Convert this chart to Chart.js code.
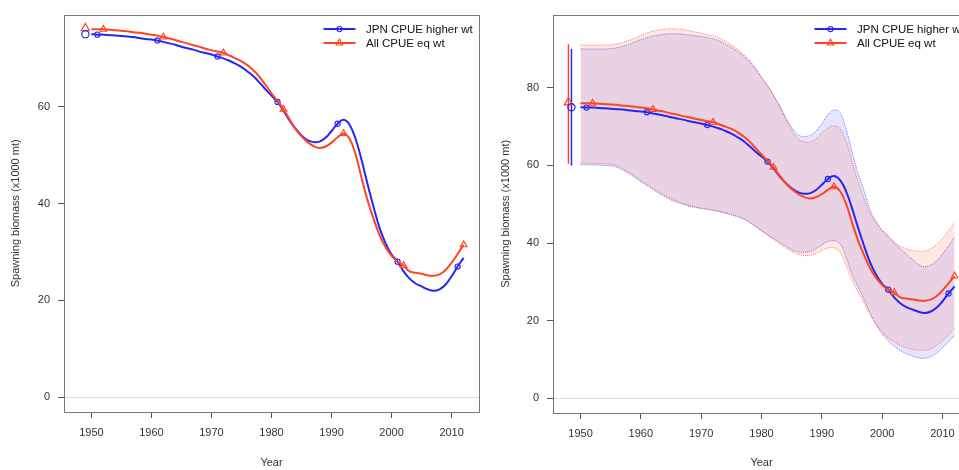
<!DOCTYPE html>
<html>
<head>
<meta charset="utf-8">
<title>Spawning biomass</title>
<script src="https://cdn.jsdelivr.net/npm/chart.js@4.4.1/dist/chart.umd.min.js"></script>
<style>
  html, body { margin: 0; padding: 0; background: #fff; overflow: hidden; }
  #wrap { position: relative; width: 959px; height: 470px; overflow: hidden; }
  canvas { position: absolute; top: 0; }
  #left-panel { left: 0; }
  #right-panel { left: 490px; }
</style>
</head>
<body>
<div id="wrap">
  <canvas id="left-panel" width="490" height="470"></canvas>
  <canvas id="right-panel" width="490" height="470"></canvas>
</div>
<script>
// Model years
const years = [
    1950, 1951, 1952, 1953, 1954, 1955, 1956, 1957, 1958, 1959,
    1960, 1961, 1962, 1963, 1964, 1965, 1966, 1967, 1968, 1969,
    1970, 1971, 1972, 1973, 1974, 1975, 1976, 1977, 1978, 1979,
    1980, 1981, 1982, 1983, 1984, 1985, 1986, 1987, 1988, 1989,
    1990, 1991, 1992, 1993, 1994, 1995, 1996, 1997, 1998, 1999,
    2000, 2001, 2002, 2003, 2004, 2005, 2006, 2007, 2008, 2009,
    2010, 2011, 2012
];

const seriesNames = ['JPN CPUE higher wt', 'All CPUE eq wt'];

// Spawning biomass (x1000 mt), JPN CPUE higher weight
const jpnSSB = [
    75.0, 74.9, 74.9, 74.8, 74.7, 74.6, 74.5, 74.4, 74.2, 74.0,
    73.9, 73.7, 73.4, 73.1, 72.8, 72.4, 72.1, 71.8, 71.4, 71.1,
    70.8, 70.4, 70.0, 69.5, 68.9, 68.2, 67.3, 66.3, 65.0, 63.6,
    62.3, 61.0, 59.2, 57.2, 55.5, 54.1, 53.1, 52.7, 52.8, 53.6,
    55.0, 56.5, 57.3, 56.3, 53.4, 49.0, 44.0, 39.3, 35.0, 31.8,
    29.5, 28.0, 26.0, 24.5, 23.5, 22.9, 22.3, 22.0, 22.3, 23.3,
    25.0, 27.0, 28.8
];
const jpnHi = [
    90.0, 90.0, 90.0, 90.0, 90.0, 90.1, 90.3, 90.7, 91.2, 91.8,
    92.4, 92.9, 93.3, 93.6, 93.8, 93.9, 93.9, 93.8, 93.6, 93.4,
    93.2, 92.9, 92.6, 92.0, 91.3, 90.4, 89.4, 88.2, 86.7, 84.8,
    82.6, 80.5, 78.0, 75.3, 72.4, 69.8, 68.0, 67.4, 67.7, 68.8,
    70.8, 73.0, 74.3, 73.6, 69.5, 63.5, 58.0, 53.5, 48.5, 45.5,
    43.3, 41.6, 40.0, 38.5, 37.2, 35.8, 34.5, 33.9, 34.3, 35.4,
    37.2, 39.3, 41.5
];
const jpnLo = [
    60.2, 60.2, 60.1, 60.1, 60.0, 59.9, 59.5, 58.8, 57.9, 56.9,
    55.8, 54.8, 53.8, 52.8, 51.9, 51.1, 50.5, 50.0, 49.5, 49.2,
    48.9, 48.7, 48.4, 48.1, 47.7, 47.3, 46.8, 46.2, 45.4, 44.3,
    43.2, 42.2, 41.2, 40.2, 39.2, 38.3, 37.8, 37.6, 37.8, 38.5,
    39.5, 40.4, 40.6, 39.8, 36.5, 32.0, 28.8, 25.6, 22.0, 18.9,
    16.6, 14.8, 13.4, 12.3, 11.5, 10.9, 10.4, 10.3, 10.7, 11.6,
    13.0, 14.6, 16.2
];

// Spawning biomass (x1000 mt), all CPUE equal weight
const allSSB = [
    76.0, 76.0, 76.0, 75.9, 75.8, 75.7, 75.6, 75.4, 75.3, 75.1,
    74.9, 74.7, 74.4, 74.1, 73.8, 73.4, 73.1, 72.7, 72.4, 72.0,
    71.7, 71.4, 71.1, 70.6, 70.0, 69.4, 68.6, 67.5, 66.2, 64.5,
    62.8, 61.2, 59.5, 57.4, 55.4, 53.9, 52.7, 51.9, 51.5, 51.8,
    52.6, 53.7, 54.5, 53.4, 50.2, 45.3, 40.7, 36.9, 33.5, 31.0,
    29.2, 28.0, 27.2, 26.0, 25.7, 25.5, 25.2, 25.1, 25.4, 26.3,
    27.8, 29.6, 31.5
];
const allHi = [
    91.0, 91.0, 91.0, 91.0, 91.0, 91.1, 91.3, 91.7, 92.2, 92.8,
    93.5, 94.1, 94.6, 94.9, 95.1, 95.2, 95.1, 95.0, 94.7, 94.4,
    94.1, 93.7, 93.4, 92.8, 92.0, 91.1, 90.0, 88.7, 87.1, 85.1,
    82.8, 80.6, 78.0, 75.2, 72.1, 69.2, 67.0, 66.1, 66.0, 66.8,
    68.3, 69.6, 70.2, 69.5, 66.2, 61.0, 55.8, 51.4, 47.6, 45.2,
    43.3, 41.9, 40.3, 39.2, 38.5, 38.1, 37.9, 37.9, 38.5, 39.6,
    41.2, 43.2, 45.3
];
const allLo = [
    60.6, 60.6, 60.5, 60.5, 60.4, 60.3, 59.9, 59.2, 58.3, 57.3,
    56.2, 55.2, 54.2, 53.2, 52.3, 51.5, 50.8, 50.2, 49.7, 49.3,
    49.0, 48.8, 48.5, 48.2, 47.8, 47.4, 46.9, 46.3, 45.4, 44.3,
    43.1, 42.0, 40.9, 39.8, 38.7, 37.8, 37.1, 36.8, 36.8, 37.3,
    38.1, 38.7, 38.8, 37.7, 34.4, 30.5, 27.5, 24.5, 21.5, 19.2,
    17.1, 15.6, 14.5, 13.6, 13.0, 12.6, 12.4, 12.4, 12.7, 13.5,
    14.8, 16.3, 18.0
];

// Years that carry a plot symbol on each line
const jpnMarkYears = [1951, 1961, 1971, 1981, 1991, 2001, 2011];
const allMarkYears = [1952, 1962, 1972, 1982, 1992, 2002, 2012];

// Unfished (initial) biomass with its interval: [JPN, All]
const initSSB = [75.0, 76.2];
const initHi = [90.0, 91.2];
const initLo = [60.0, 60.4];
const initYearsLeft = [1949, 1949];
const initYearsRight = [1948.5, 1948];

// Axis ticks
const xTicks = [1950, 1960, 1970, 1980, 1990, 2000, 2010];
const yTicksLeft = [0, 20, 40, 60];
const yTicksRight = [0, 20, 40, 60, 80];

const BLUE = '#2626f4';
const RED = '#ff4422';
const HOLLOW = 'rgba(0,0,0,0)';

Chart.defaults.font.family = '"Liberation Sans", Arial, sans-serif';
Chart.defaults.font.size = 11;
Chart.defaults.color = '#333';

function points(values) {
    return years.map((yr, i) => ({ x: yr, y: values[i] }));
}

// Box around the plotting region
const plotBox = {
    id: 'plotBox',
    afterDraw(chart) {
        const { ctx, chartArea: a } = chart;
        ctx.save();
        ctx.strokeStyle = '#777';
        ctx.lineWidth = 1;
        ctx.strokeRect(Math.round(a.left) + 0.5, Math.round(a.top) + 0.5,
            Math.round(a.right - a.left), Math.round(a.bottom - a.top));
        ctx.restore();
    }
};

// Legend drawn inside the top right corner of the plot
const insideLegend = {
    id: 'insideLegend',
    afterDraw(chart) {
        const { ctx, chartArea } = chart;
        const x0 = chartArea.right - 155.5;
        const items = [
            { label: seriesNames[0], color: BLUE, style: 'circle', radius: 2.6 },
            { label: seriesNames[1], color: RED, style: 'triangle', radius: 3.9 }
        ];
        items.forEach((item, i) => {
            const y = chartArea.top + 14.5 + i * 14;
            ctx.save();
            ctx.strokeStyle = item.color;
            ctx.lineWidth = 2;
            ctx.beginPath();
            ctx.moveTo(x0, y);
            ctx.lineTo(x0 + 32, y);
            ctx.stroke();
            ctx.fillStyle = HOLLOW;
            ctx.lineWidth = 1.1;
            Chart.helpers.drawPoint(ctx, {
                pointStyle: item.style, radius: item.radius, borderWidth: 1.1, rotation: 0
            }, x0 + 16, y);
            ctx.fillStyle = '#111';
            ctx.font = '11.5px "Liberation Sans", Arial, sans-serif';
            ctx.textBaseline = 'middle';
            ctx.fillText(item.label, x0 + 42.5, y + 0.5);
            ctx.restore();
        });
    }
};

function markRadius(markYears, r) {
    return ctx => markYears.includes(years[ctx.dataIndex]) ? r : 0;
}

function buildPanel(canvasId, panel) {
    const datasets = [
        {
            label: seriesNames[0],
            data: points(jpnSSB),
            borderColor: BLUE,
            borderWidth: 2,
            tension: 0.4,
            pointStyle: 'circle',
            pointRadius: markRadius(jpnMarkYears, 2.6),
            pointBorderWidth: 1.1,
            pointBorderColor: BLUE,
            pointBackgroundColor: HOLLOW,
            order: 1
        },
        {
            label: seriesNames[1],
            data: points(allSSB),
            borderColor: RED,
            borderWidth: 2,
            tension: 0.4,
            pointStyle: 'triangle',
            pointRadius: markRadius(allMarkYears, 3.9),
            pointBorderWidth: 1.1,
            pointBorderColor: RED,
            pointBackgroundColor: HOLLOW,
            order: 0
        },
        {
            label: 'JPN initial',
            data: [{ x: panel.initYears[0], y: initSSB[0] }],
            showLine: false,
            pointStyle: 'circle',
            pointRadius: 3.6,
            pointBorderWidth: 1.2,
            pointBorderColor: BLUE,
            pointBackgroundColor: HOLLOW,
            order: 0
        },
        {
            label: 'All initial',
            data: [{ x: panel.initYears[1], y: initSSB[1] }],
            showLine: false,
            pointStyle: 'triangle',
            pointRadius: 4.8,
            pointBorderWidth: 1.2,
            pointBorderColor: RED,
            pointBackgroundColor: HOLLOW,
            order: 0
        }
    ];

    if (panel.intervals) {
        datasets.push(
            // interval bars on the unfished biomass
            {
                label: 'JPN initial CI',
                data: [{ x: panel.initYears[0], y: initLo[0] }, { x: panel.initYears[0], y: initHi[0] }],
                borderColor: BLUE,
                borderWidth: 1.5,
                pointRadius: 0,
                order: 2
            },
            {
                label: 'All initial CI',
                data: [{ x: panel.initYears[1], y: initLo[1] }, { x: panel.initYears[1], y: initHi[1] }],
                borderColor: RED,
                borderWidth: 1.5,
                pointRadius: 0,
                order: 2
            },
            // shaded confidence bands with dotted edges
            {
                label: 'JPN upper',
                data: points(jpnHi),
                borderColor: 'rgba(70,70,255,0.75)',
                borderWidth: 1,
                borderDash: [1, 1],
                tension: 0.4,
                pointRadius: 0,
                fill: '+1',
                backgroundColor: 'rgba(70,70,255,0.14)',
                order: 4
            },
            {
                label: 'JPN lower',
                data: points(jpnLo),
                borderColor: 'rgba(70,70,255,0.75)',
                borderWidth: 1,
                borderDash: [1, 1],
                tension: 0.4,
                pointRadius: 0,
                order: 4
            },
            {
                label: 'All upper',
                data: points(allHi),
                borderColor: 'rgba(255,90,60,0.75)',
                borderWidth: 1,
                borderDash: [1, 1],
                tension: 0.4,
                pointRadius: 0,
                fill: '+1',
                backgroundColor: 'rgba(255,90,60,0.14)',
                order: 3
            },
            {
                label: 'All lower',
                data: points(allLo),
                borderColor: 'rgba(255,90,60,0.75)',
                borderWidth: 1,
                borderDash: [1, 1],
                tension: 0.4,
                pointRadius: 0,
                order: 3
            }
        );
    }

    return new Chart(document.getElementById(canvasId), {
        type: 'line',
        data: { datasets: datasets },
        options: {
            responsive: false,
            animation: false,
            devicePixelRatio: 1,
            layout: { padding: { left: 0, top: 11, right: panel.padRight, bottom: 0 } },
            plugins: {
                legend: { display: false },
                tooltip: { enabled: false }
            },
            scales: {
                x: {
                    type: 'linear',
                    min: 1945.44,
                    max: 2014.56,
                    afterBuildTicks: scale => { scale.ticks = xTicks.map(v => ({ value: v })); },
                    afterFit: scale => { scale.height = panel.xHeight; },
                    border: { display: false },
                    grid: { drawOnChartArea: false, tickLength: 6, tickColor: '#555' },
                    ticks: { padding: 8, color: '#333', callback: v => String(v) },
                    title: { display: true, text: 'Year', color: '#333', padding: { top: panel.xTitlePad, bottom: 0 } }
                },
                y: {
                    min: panel.yMin,
                    max: panel.yMax,
                    afterBuildTicks: scale => { scale.ticks = panel.yTicks.map(v => ({ value: v })); },
                    afterFit: scale => { scale.width = panel.yWidth; },
                    border: { display: false },
                    grid: {
                        tickLength: 6,
                        tickColor: '#555',
                        color: ctx => ctx.tick && ctx.tick.value === 0 ? '#dcdcdc' : HOLLOW
                    },
                    ticks: { padding: 8, color: '#333' },
                    title: { display: true, text: 'Spawning biomass (x1000 mt)', color: '#333', padding: { top: 9, bottom: 0 } }
                }
            }
        },
        plugins: [plotBox, insideLegend]
    });
}

// Point estimates only
buildPanel('left-panel', {
    yMin: -3.04, yMax: 79.04, yTicks: yTicksLeft,
    initYears: initYearsLeft, intervals: false,
    padRight: 11, yWidth: 64, xHeight: 58, xTitlePad: 3.4
});

// Point estimates with confidence intervals
buildPanel('right-panel', {
    yMin: -3.8, yMax: 98.86, yTicks: yTicksRight,
    initYears: initYearsRight, intervals: true,
    padRight: 10, yWidth: 63, xHeight: 57, xTitlePad: 1
});
</script>
</body>
</html>
